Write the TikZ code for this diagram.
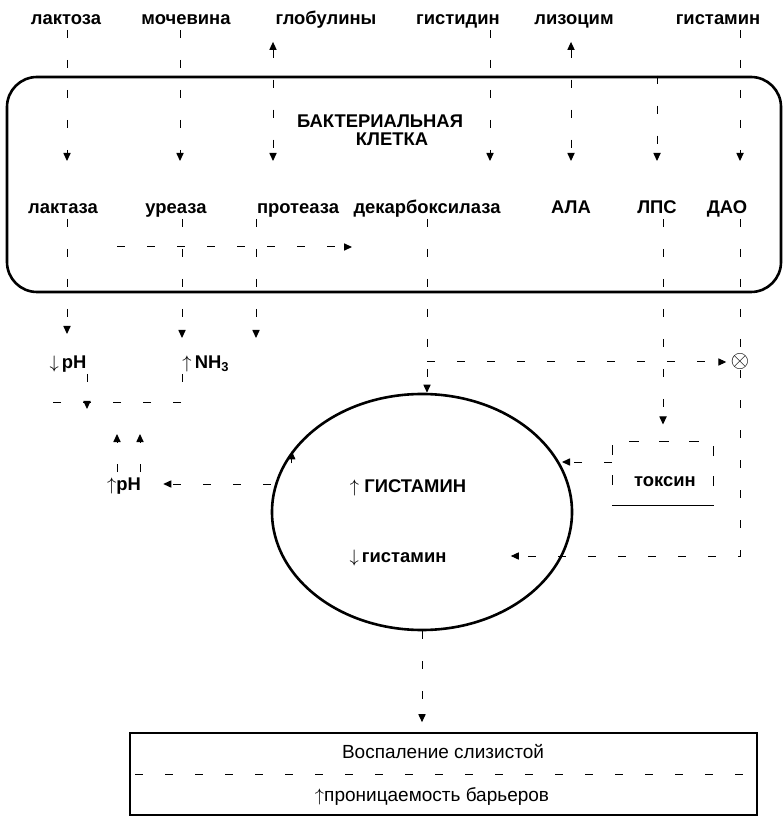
\documentclass[tikz,border=0pt]{standalone}
\usepackage{fontspec}
\setmainfont{Liberation Sans}
\usepackage{tikz}
\usetikzlibrary{shapes, arrows.meta, positioning, calc}
\tikzset{
  lbl/.style={font=\fontsize{9.2}{10}\selectfont\bfseries, text height=1.5ex, text depth=0.3ex, inner sep=1pt},
  plainlbl/.style={font=\fontsize{9.5}{10}\selectfont, text height=1.5ex, text depth=0.3ex, inner sep=1pt},
  cellbox/.style={rectangle, draw, line width=1.3pt, rounded corners=15pt, minimum width=387pt, minimum height=107.5pt},
  gutell/.style={ellipse, draw, line width=1.3pt, minimum width=150pt, minimum height=118pt},
  effbox/.style={rectangle, draw, line width=0.8pt, minimum width=313.5pt, minimum height=41pt},
  toxbox/.style={rectangle, draw, line width=0.5pt, dash pattern=on 5pt off 10pt, minimum width=50.5pt, minimum height=32pt},
  faded/.style={line width=0.5pt, dash pattern=on 4pt off 11pt},
  arr/.style={-{Triangle[length=4pt,width=3.6pt]}},
  bothar/.style={{Triangle[length=4pt,width=3.6pt]}-{Triangle[length=4pt,width=3.6pt]}}
}
\begin{document}
\begin{tikzpicture}[x=0.5pt, y=-0.5pt]
    \useasboundingbox (0,0) rectangle (783,822);

    % Substrates
    \node[lbl] (lactose) at (66,18) {лактоза};
    \node[lbl] (urea) at (186,18) {мочевина};
    \node[lbl] (glob) at (326,18) {глобулины};
    \node[lbl] (his) at (458,18) {гистидин};
    \node[lbl] (lyso) at (574,18) {лизоцим};
    \node[lbl] (hist) at (718,18) {гистамин};

    % Bacterial cell
    \node[cellbox] (cell) at (394,184.5) {};
    \node[align=center, font=\fontsize{9.2}{9}\selectfont\bfseries] (title) at (380,130) {БАКТЕРИАЛЬНАЯ\\ \hspace{1.3em}КЛЕТКА};

    % Enzymes
    \node[lbl] (lactase) at (63,207) {лактаза};
    \node[lbl] (urease) at (176,207) {уреаза};
    \node[lbl] (protease) at (298,207) {протеаза};
    \node[lbl] (decarb) at (427,207) {декарбоксилаза};
    \node[lbl] (ala) at (571,207) {АЛА};
    \node[lbl] (lps) at (657,207) {ЛПС};
    \node[lbl] (dao) at (727,207) {ДАО};

    \coordinate (a1) at (67,161);
    \coordinate (a2) at (180,161);
    \coordinate (a3) at (273,161);
    \coordinate (a4) at (490,161);
    \coordinate (a5) at (571,161);
    \coordinate (a6) at (657,161);
    \coordinate (a7) at (740,161);
    \draw[faded, arr] (lactose.south -| a1) -- (a1);
    \draw[faded, arr] (urea.south -| a2) -- (a2);
    \draw[faded, bothar, shorten <=6pt] (glob.south -| a3) -- (a3);
    \draw[faded, arr] (his.south -| a4) -- (a4);
    \draw[faded, bothar, shorten <=6pt] (lyso.south -| a5) -- (a5);
    \draw[faded, arr] (cell.north -| a6) -- (a6);
    \draw[faded, arr] (hist.south -| a7) -- (a7);
    \draw[faded, arr] (117,247) -- (352,247);

    % pH and ammonia
    \node[lbl] (dpH) at (68,362) {$\downarrow$\,pH};
    \node[lbl] (nh3) at (206,362) {$\uparrow$\,NH\textsubscript{3}};
    \node[lbl] (upH) at (124,484) {$\uparrow$pH};
    \coordinate (b1) at (67,334);
    \coordinate (b2) at (182,338);
    \coordinate (b3) at (256,338);
    \draw[faded, arr] (lactase.south -| b1) -- (b1);
    \draw[faded, arr] (urease.south -| b2) -- (b2);
    \draw[faded, arr] (protease.south -| b3) -- (b3);
    \coordinate (d1) at (37,403);
    \coordinate (d3) at (87,409);
    \coordinate (e1) at (117,434);
    \coordinate (e2) at (140,434);
    \draw[faded] (nh3.south -| b2) |- (d1);
    \draw[faded, arr] (dpH.south -| d3) -- (d3);
    \draw[faded, arr] (upH.north -| e1) -- (e1);
    \draw[faded, arr] (upH.north -| e2) -- (e2);

    % Histamine in the gut
    \node[gutell] (gut) at (422,512) {};
    \node[lbl] (hup) at (408,486) {$\uparrow$ ГИСТАМИН};
    \node[lbl] (hdown) at (398,556) {$\downarrow$\,гистамин};
    \draw[arr] ([yshift=-6pt]gut.155) -- (gut.155);
    \coordinate (jn) at (427,362);
    \draw[faded, arr] (decarb.south -| jn) -- (gut.north -| jn);
    \draw[faded, arr, shorten >=10pt] (upH.east -| gut.west) -- (upH.east);

    % DAO blocking
    \node[inner sep=0pt, font=\large] (daox) at (740,362) {$\otimes$};
    \draw[faded] (dao.south -| daox) -- (daox);
    \draw[faded, arr, shorten >=2pt] (jn) -- (daox);
    \draw[faded, arr, shorten >=31pt] (daox) |- (hdown.east);

    % Toxin
    \node[toxbox] (tox) at (663,473) {};
    \node[lbl] (toxt) at (665,480) {токсин};
    \draw[line width=0.6pt] (tox.south west) -- (tox.south east);
    \coordinate (g1) at (562,462);
    \draw[faded, arr, shorten >=8pt] (lps.south -| tox.north) -- (tox.north);
    \draw[faded, arr] (tox.west |- g1) -- (g1);

    % Effect
    \node[effbox] (eff) at (443.5,774) {};
    \node[plainlbl] (infl) at (443,752) {Воспаление слизистой};
    \node[plainlbl] (perm) at (432,795) {$\uparrow$проницаемость барьеров};
    \draw[faded] ([xshift=3pt]eff.west) -- ([xshift=-3pt]eff.east);
    \draw[faded, arr, shorten >=5pt] (gut.south) -- (gut.south |- eff.north);
\end{tikzpicture}
\end{document}
